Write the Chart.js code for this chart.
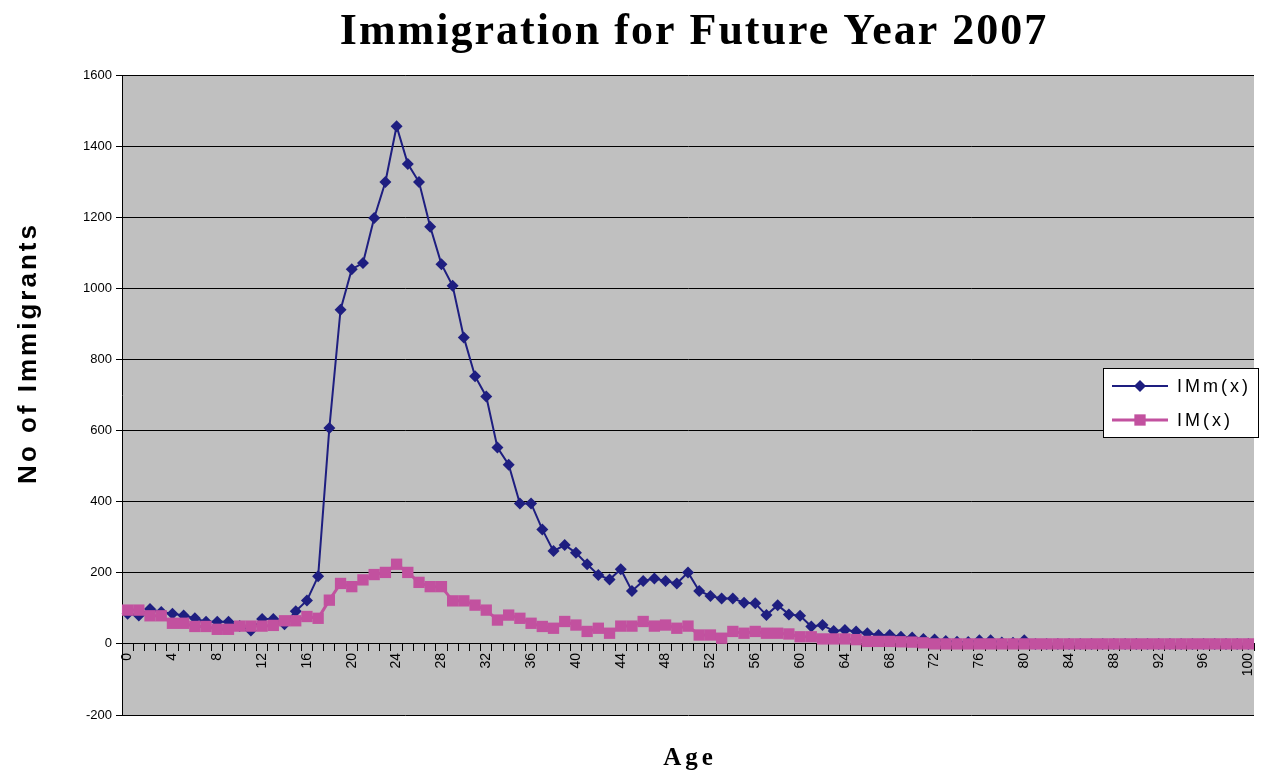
<!DOCTYPE html>
<html>
<head>
<meta charset="utf-8">
<title>Immigration for Future Year 2007</title>
<script src="https://cdn.jsdelivr.net/npm/chart.js@4.4.1/dist/chart.umd.min.js"></script>
<style>
  html, body { margin: 0; padding: 0; background: #fff; }
  #wrap { width: 1262px; height: 774px; position: relative; }
</style>
</head>
<body>
<div id="wrap"><canvas id="immChart"></canvas></div>
<script>
// ages 0..100 (category axis)
var ages = [
  0, 1, 2, 3, 4, 5, 6, 7, 8, 9, 10, 11, 12, 13, 14, 15, 16, 17, 18, 19, 20,
  21, 22, 23, 24, 25, 26, 27, 28, 29, 30, 31, 32, 33, 34, 35, 36, 37, 38, 39, 40,
  41, 42, 43, 44, 45, 46, 47, 48, 49, 50, 51, 52, 53, 54, 55, 56, 57, 58, 59, 60,
  61, 62, 63, 64, 65, 66, 67, 68, 69, 70, 71, 72, 73, 74, 75, 76, 77, 78, 79, 80,
  81, 82, 83, 84, 85, 86, 87, 88, 89, 90, 91, 92, 93, 94, 95, 96, 97, 98, 99, 100
];

// IMm(x)
var imMale = [
  85, 80, 98, 90, 85, 80, 72, 62, 62, 62, 50, 38, 70, 70, 55, 92, 122, 190, 607, 940,
  1054, 1071, 1198, 1299, 1456, 1350, 1299, 1173, 1068, 1007, 862, 753, 696, 552, 504, 395, 395, 322, 261, 278,
  256, 224, 194, 181, 210, 149, 177, 184, 177, 170, 201, 149, 135, 128, 128, 116, 114, 81, 109, 83,
  79, 49, 53, 36, 39, 35, 30, 25, 25, 20, 18, 14, 12, 8, 6, 5, 10, 10, 4, 3,
  10, 0, 0, 0, 0, 0, 0, 0, 0, 0, 0, 0, 0, 0, 0, 0, 0, 0, 0, 0, 0
];

// IM(x)
var imTotal = [
  95, 95, 79, 79, 58, 58, 49, 49, 41, 41, 50, 50, 50, 52, 65, 65, 77, 72, 123, 170,
  161, 180, 195, 201, 224, 201, 173, 161, 161, 121, 121, 109, 95, 67, 81, 72, 58, 49, 44, 63,
  53, 35, 44, 30, 50, 50, 63, 50, 53, 44, 50, 25, 25, 16, 35, 30, 35, 30, 30, 28,
  20, 20, 14, 14, 14, 12, 7, 7, 7, 6, 5, 3, 0, 0, 0, 0, 0, 0, 0, 0,
  0, 0, 0, 0, 0, 0, 0, 0, 0, 0, 0, 0, 0, 0, 0, 0, 0, 0, 0, 0, 0
];

var seriesNames = ['IMm(x)', 'IM(x)'];
var yTicks = [-200, 0, 200, 400, 600, 800, 1000, 1200, 1400, 1600];

var navy = '#1e1e80';
var pink = '#c2519f';

// grey plot area
var plotBg = {
    id: 'plotBg',
    beforeDraw: function (chart) {
        var a = chart.chartArea;
        var ctx = chart.ctx;
        ctx.save();
        ctx.fillStyle = '#c0c0c0';
        ctx.fillRect(a.left, a.top, a.right - a.left, a.bottom - a.top);
        ctx.restore();
    }
};

// titles and legend box, drawn with a little letter spacing like the original
var extras = {
    id: 'extras',
    afterDraw: function (chart) {
        var ctx = chart.ctx;
        ctx.save();
        ctx.fillStyle = '#000';

        ctx.letterSpacing = '2px';
        ctx.font = 'bold 44px "Liberation Serif", "Times New Roman", serif';
        ctx.textAlign = 'center';
        ctx.textBaseline = 'alphabetic';
        ctx.fillText('Immigration for Future Year 2007', 694, 44);

        ctx.letterSpacing = '4px';
        ctx.font = 'bold 25px "Liberation Serif", "Times New Roman", serif';
        ctx.fillText('Age', 690, 765);

        ctx.save();
        ctx.translate(29, 353);
        ctx.rotate(-Math.PI / 2);
        ctx.letterSpacing = '3px';
        ctx.font = 'bold 26px "Liberation Sans", Arial, sans-serif';
        ctx.textBaseline = 'middle';
        ctx.fillText('No of Immigrants', 0, 0);
        ctx.restore();

        // legend
        var lx = 1103, ly = 368, lw = 156, lh = 70;
        ctx.letterSpacing = '0px';
        ctx.fillStyle = '#fff';
        ctx.fillRect(lx, ly, lw, lh);
        ctx.strokeStyle = '#000';
        ctx.lineWidth = 1;
        ctx.strokeRect(lx + 0.5, ly + 0.5, lw - 1, lh - 1);

        var rows = [
            { y: 386, color: navy, lw: 2, style: 'rectRot', r: 6 },
            { y: 420, color: pink, lw: 3, style: 'rect', r: 8 }
        ];
        rows.forEach(function (row, i) {
            ctx.strokeStyle = row.color;
            ctx.lineWidth = row.lw;
            ctx.beginPath();
            ctx.moveTo(1112, row.y);
            ctx.lineTo(1168, row.y);
            ctx.stroke();
            ctx.fillStyle = row.color;
            Chart.helpers.drawPoint(ctx, { pointStyle: row.style, radius: row.r, borderWidth: 0 }, 1140, row.y);
            ctx.fillStyle = '#000';
            ctx.letterSpacing = '3px';
            ctx.font = '18px "Liberation Sans", Arial, sans-serif';
            ctx.textAlign = 'left';
            ctx.textBaseline = 'middle';
            ctx.fillText(seriesNames[i], 1177, row.y + 1);
            ctx.letterSpacing = '0px';
        });
        ctx.restore();
    }
};

var noPad = function () { return { left: 0, top: 0, right: 0, bottom: 0 }; };

var ctx = document.getElementById('immChart').getContext('2d');
new Chart(ctx, {
    type: 'line',
    data: {
        labels: ages,
        datasets: [{
            label: seriesNames[0],
            data: imMale,
            borderColor: navy,
            backgroundColor: navy,
            borderWidth: 2,
            pointStyle: 'rectRot',
            pointRadius: 6,
            pointBorderWidth: 0,
            pointBackgroundColor: navy,
            tension: 0,
            fill: false,
            order: 1
        }, {
            label: seriesNames[1],
            data: imTotal,
            borderColor: pink,
            backgroundColor: pink,
            borderWidth: 3,
            pointStyle: 'rect',
            pointRadius: 8,
            pointBorderWidth: 0,
            pointBackgroundColor: pink,
            tension: 0,
            fill: false,
            order: 0
        }]
    },
    options: {
        responsive: true,
        maintainAspectRatio: false,
        animation: false,
        layout: { padding: { left: 0, top: 75, right: 4, bottom: 59 } },
        plugins: {
            legend: { display: false },
            title: { display: false },
            tooltip: { enabled: false }
        },
        scales: {
            x: {
                type: 'category',
                position: { y: 0 },
                offset: true,
                afterFit: function (s) { s.paddingLeft = 0; s.paddingRight = 0; s.getPadding = noPad; },
                grid: {
                    display: true,
                    drawOnChartArea: false,
                    drawTicks: true,
                    tickLength: 7,
                    color: '#000',
                    offset: true
                },
                border: { display: true, color: '#000', width: 1 },
                ticks: {
                    autoSkip: false,
                    minRotation: 90,
                    maxRotation: 90,
                    padding: 2,
                    color: '#000',
                    font: { family: '"Liberation Sans", Arial, sans-serif', size: 14 },
                    callback: function (v, i) { return i % 4 === 0 ? String(ages[i]) : ''; }
                }
            },
            y: {
                min: -200,
                max: 1600,
                afterFit: function (s) { s.width = 122; },
                afterBuildTicks: function (s) { s.ticks = yTicks.map(function (v) { return { value: v }; }); },
                grid: { color: '#000', lineWidth: 1, tickLength: 6 },
                border: { display: true, color: '#000', width: 1 },
                ticks: {
                    padding: 4,
                    color: '#000',
                    font: { family: '"Liberation Sans", Arial, sans-serif', size: 13 },
                    callback: function (v) { return String(v); }
                }
            }
        }
    },
    plugins: [plotBg, extras]
});
</script>
</body>
</html>
